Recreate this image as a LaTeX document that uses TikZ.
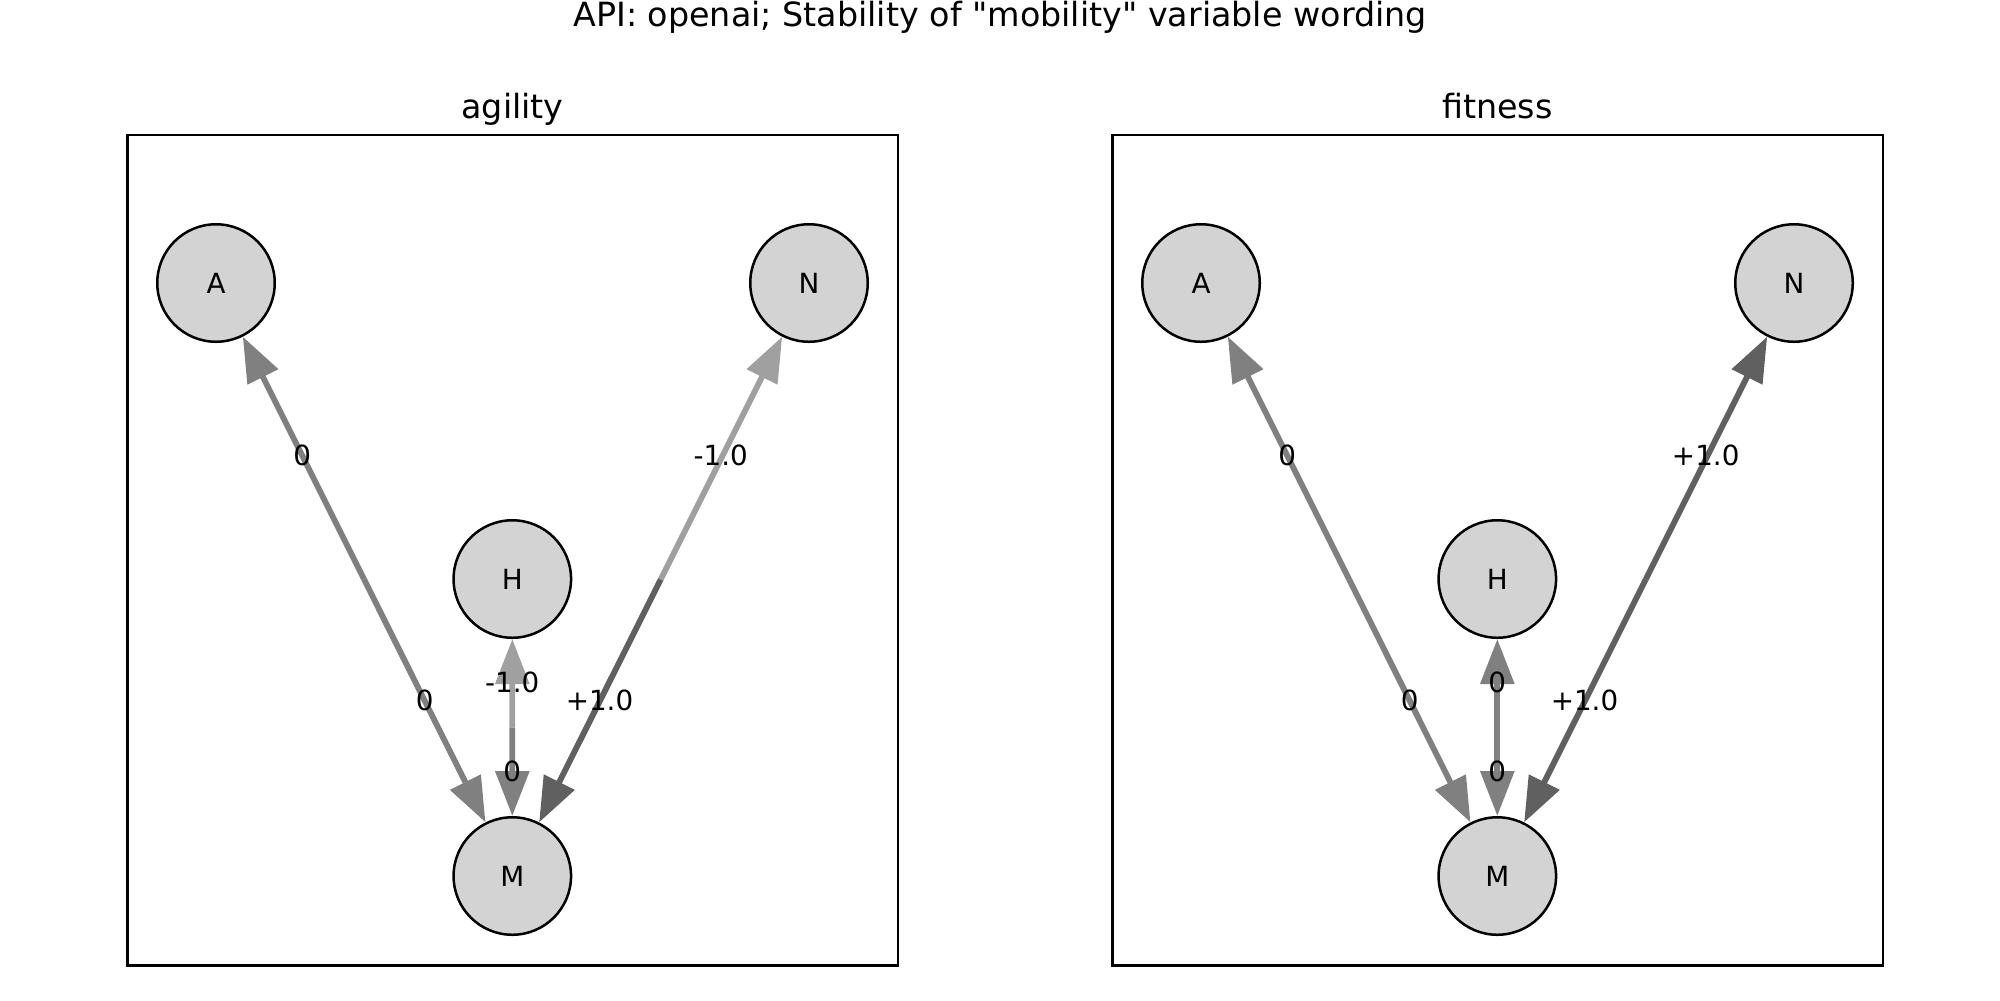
\documentclass[tikz,border=0pt]{standalone}
\usepackage{fontspec}
\setmainfont{DejaVu Sans}[Ligatures=TeXOff]
\usetikzlibrary{arrows.meta,calc}
\definecolor{wLow}{HTML}{A0A0A0}
\definecolor{wMid}{HTML}{808080}
\definecolor{wHigh}{HTML}{606060}
\definecolor{nodefill}{HTML}{D3D3D3}
\begin{document}
\begin{tikzpicture}[x=0.36pt,y=-0.36pt,
  vnode/.style={circle,draw=black,fill=nodefill,line width=0.9pt,minimum size=42.3pt,inner sep=0pt,font=\fontsize{10}{12}\selectfont},
  halfedge/.style={line width=2.1pt,-{Triangle[length=16.2pt,width=11.9pt]}},
  elabel/.style={inner sep=0pt,font=\fontsize{10}{12}\selectfont},
  maintitle/.style={anchor=base,inner sep=0pt,font=\fontsize{12}{14}\selectfont},
  paneltitle/.style={anchor=base,inner sep=0pt,font=\fontsize{12}{14}\selectfont},
  frame/.style={draw=black,line width=0.8pt}]
\useasboundingbox (0,0) rectangle (2000,1000);

\node[maintitle] (title) at (1000,26.7) {API: openai; Stability of "mobility" variable wording};

% ---------- left panel: agility ----------
\node[paneltitle] (tl) at (512.5,118.3) {agility};
\draw[frame] (127.4,135) rectangle (897.6,965.5);
\node[vnode] (lA) at (216,283) {A};
\node[vnode] (lN) at (809,283) {N};
\node[vnode] (lH) at (512.3,579) {H};
\node[vnode] (lM) at (512.3,876) {M};
\coordinate (lAM) at ($(lA)!0.5!(lM)$);
\coordinate (lNM) at ($(lN)!0.5!(lM)$);
\coordinate (lHM) at ($(lH)!0.5!(lM)$);
\draw[halfedge,wMid] (lAM) -- (lA);
\draw[halfedge,wMid] (lAM) -- (lM);
\draw[halfedge,wLow] (lNM) -- (lN);
\draw[halfedge,wHigh] (lNM) -- (lM);
\draw[halfedge,wLow] (lHM) -- (lH);
\draw[halfedge,wMid] (lHM) -- (lM);
\node[elabel] (llA) at (302.3,455.4) {0};
\node[elabel] (llAM) at (424.7,700.2) {0};
\node[elabel] (llN) at (720.7,455.4) {-1.0};
\node[elabel] (llNM) at (599.5,700.2) {+1.0};
\node[elabel] (llH) at (512.3,682.5) {-1.0};
\node[elabel] (llHM) at (512.3,771.7) {0};

% ---------- right panel: fitness ----------
\node[paneltitle] (tr) at (1497.3,118.3) {fitness};
\draw[frame] (1112.4,135) rectangle (1882.6,965.5);
\node[vnode] (rA) at (1201,283) {A};
\node[vnode] (rN) at (1794,283) {N};
\node[vnode] (rH) at (1497.3,579) {H};
\node[vnode] (rM) at (1497.3,876) {M};
\coordinate (rAM) at ($(rA)!0.5!(rM)$);
\coordinate (rNM) at ($(rN)!0.5!(rM)$);
\coordinate (rHM) at ($(rH)!0.5!(rM)$);
\draw[halfedge,wMid] (rAM) -- (rA);
\draw[halfedge,wMid] (rAM) -- (rM);
\draw[halfedge,wHigh] (rNM) -- (rN);
\draw[halfedge,wHigh] (rNM) -- (rM);
\draw[halfedge,wMid] (rHM) -- (rH);
\draw[halfedge,wMid] (rHM) -- (rM);
\node[elabel] (rlA) at (1287.3,455.4) {0};
\node[elabel] (rlAM) at (1409.7,700.2) {0};
\node[elabel] (rlN) at (1705.7,455.4) {+1.0};
\node[elabel] (rlNM) at (1584.5,700.2) {+1.0};
\node[elabel] (rlH) at (1497.3,682.5) {0};
\node[elabel] (rlHM) at (1497.3,771.7) {0};
\end{tikzpicture}
\end{document}
